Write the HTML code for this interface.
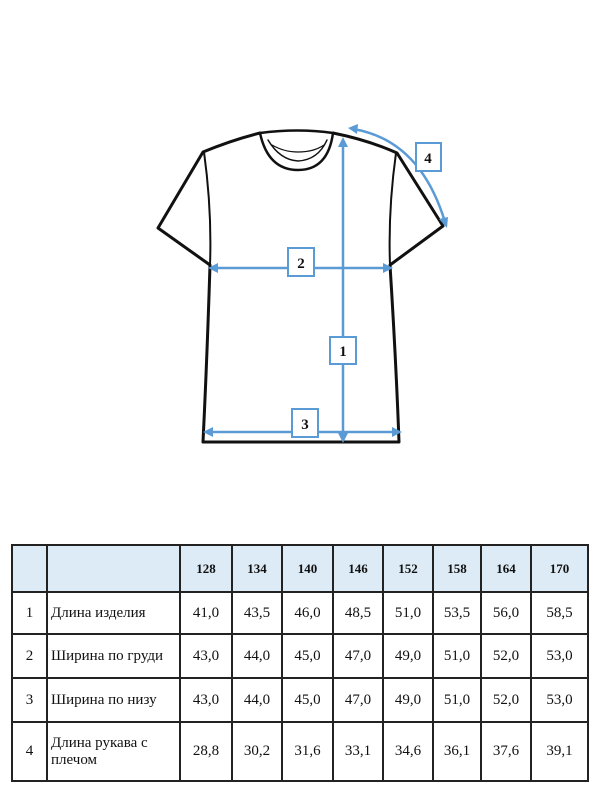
<!DOCTYPE html>
<html><head><meta charset="utf-8"><style>
body{margin:0;width:600px;height:800px;background:#fff;position:relative;overflow:hidden;font-family:"Liberation Serif",serif}
svg{position:absolute;left:0;top:0}
table{position:absolute;left:11px;top:544px;border-collapse:collapse;font-size:15px;color:#111}
td{border:2px solid #222;text-align:center;padding:0;box-sizing:border-box}
tr.h td{background:#dcebf6;font-weight:bold;font-size:13px}
td.n{text-align:left;padding-left:3px}
</style></head><body>
<svg width="600" height="540" viewBox="0 0 600 540">
<g fill="none" stroke="#111" stroke-width="3" stroke-linejoin="round" stroke-linecap="round">
<path d="M260,133 Q232,140 203,152 L158,228 L210,265 Q207,360 203,442 L399,442 Q396,360 390,265 L443,226 L397,153 Q368,140 333,133"/>
<path d="M204,152 Q212,210 210,265" stroke-width="2"/>
<path d="M396,153 Q388,210 390,265" stroke-width="2"/>
<path d="M260,133 Q268,170 298,170 Q328,170 333,133" stroke-width="2.5"/>
<path d="M260,133 Q298,128 333,133" stroke-width="2.5"/>
<path d="M268,140 Q280,160 298,161 Q318,160 327,140" stroke-width="1.5"/>
<path d="M272,145 Q284,152 298,152 Q314,152 324,145" stroke-width="1.2"/>
</g>
<g stroke="#5b9bd5" stroke-width="2.5" fill="none">
<line x1="343" y1="143" x2="343" y2="437"/>
<line x1="214" y1="268" x2="387" y2="268"/>
<line x1="209" y1="432" x2="396" y2="432"/>
<path d="M353,129 Q420,140 445,222"/>
</g>
<g fill="#5b9bd5">
<polygon points="343,137 338,147 348,147"/>
<polygon points="343,443 338,433 348,433"/>
<polygon points="208,268 218,263 218,273"/>
<polygon points="393,268 383,263 383,273"/>
<polygon points="203,432 213,427 213,437"/>
<polygon points="402,432 392,427 392,437"/>
<polygon points="348,128 358,124 357,134"/>
<polygon points="447,228 439,219 448,217"/>
</g>
<g fill="#fff" stroke="#5b9bd5" stroke-width="2">
<rect x="288" y="248" width="26" height="28"/>
<rect x="330" y="337" width="26" height="27"/>
<rect x="292" y="409" width="26" height="28"/>
<rect x="416" y="143" width="25" height="28"/>
</g>
<g font-family="Liberation Serif,serif" font-weight="bold" font-size="15" text-anchor="middle" fill="#111">
<text x="301" y="268">2</text><text x="343" y="356">1</text><text x="305" y="429">3</text><text x="428" y="163">4</text>
</g>
</svg>
<table>
<colgroup><col style="width:35px"><col style="width:133px"><col style="width:52px"><col style="width:50px"><col style="width:51px"><col style="width:50px"><col style="width:50px"><col style="width:48px"><col style="width:50px"><col style="width:57px"></colgroup>
<tr class="h" style="height:47px"><td></td><td></td><td>128</td><td>134</td><td>140</td><td>146</td><td>152</td><td>158</td><td>164</td><td>170</td></tr>
<tr style="height:42px"><td>1</td><td class="n">Длина изделия</td><td>41,0</td><td>43,5</td><td>46,0</td><td>48,5</td><td>51,0</td><td>53,5</td><td>56,0</td><td>58,5</td></tr>
<tr style="height:44px"><td>2</td><td class="n">Ширина по груди</td><td>43,0</td><td>44,0</td><td>45,0</td><td>47,0</td><td>49,0</td><td>51,0</td><td>52,0</td><td>53,0</td></tr>
<tr style="height:44px"><td>3</td><td class="n">Ширина по низу</td><td>43,0</td><td>44,0</td><td>45,0</td><td>47,0</td><td>49,0</td><td>51,0</td><td>52,0</td><td>53,0</td></tr>
<tr style="height:59px"><td>4</td><td class="n">Длина рукава с<br>плечом</td><td>28,8</td><td>30,2</td><td>31,6</td><td>33,1</td><td>34,6</td><td>36,1</td><td>37,6</td><td>39,1</td></tr>
</table>
</body></html>
